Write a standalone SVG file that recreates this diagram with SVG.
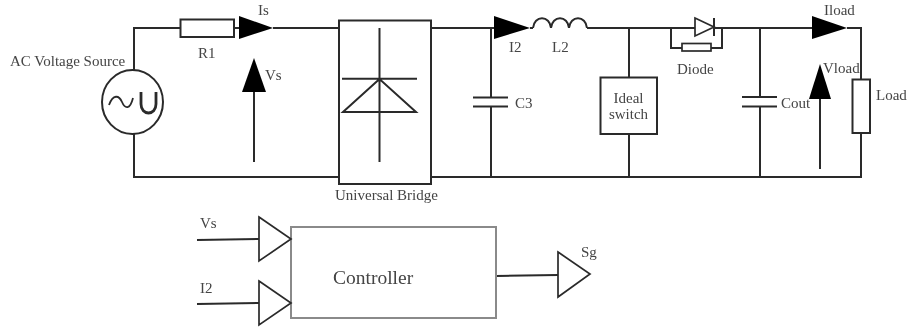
<svg xmlns="http://www.w3.org/2000/svg" width="909" height="328" viewBox="0 0 909 328">
<style>
.w{fill:none;stroke:#2a2a2a;stroke-width:2}
.b{fill:#fff;stroke:#2a2a2a;stroke-width:2}
.g{fill:#fff;stroke:#2a2a2a;stroke-width:1.700}
.k{fill:#000;stroke:none}
.c{fill:#fff;stroke:#8a8a8a;stroke-width:2}
text{font-family:"Liberation Serif","Times New Roman",serif;font-size:15px;fill:#444}
</style>
<defs><filter id="s" x="-2%" y="-2%" width="104%" height="104%"><feGaussianBlur stdDeviation="0.45"/></filter></defs>
<rect width="909" height="328" fill="#fff"/>
<g filter="url(#s)">
<g id="connectors">
<path class="w" d="M180 28H134V70M134 134V177H339M234 28H239M273 28H339M431 28H494M530 28H533M587 28H695M714 28H812M847 28H861V79M861 133V177M431 177H862"/>
<path class="w" d="M491 28V97.500M491 106.500V177M629 28V77M629 134V177M760 28V97M760 106.500V177"/>
<path class="w" d="M254 162V92M820 169V99M197 240L259 239M197 304L259 303M496 276L558 275"/>
</g>
<g id="source"><ellipse class="b" cx="132.500" cy="102" rx="30.500" ry="32"/><path class="w" d="M109 105C113 94 119 95 122 102C125 109 130 110 133 98" style="stroke-width:1.800"/><path class="w" style="stroke-width:2.800" d="M141 92V104C141 116 156 116 156 104V92"/><text x="10" y="66">AC Voltage Source</text></g>
<g id="r1"><rect class="b" x="180.500" y="19.500" width="53.500" height="17.500"/><text x="198" y="58">R1</text></g>
<g id="is"><polygon class="k" points="239,16 273,28 239,39"/><text x="258" y="15">Is</text></g>
<g id="vs"><polygon class="k" points="254,58 242,92 266,92"/><text x="265" y="80">Vs</text></g>
<g id="bridge"><rect class="b" x="339" y="20.500" width="92" height="163.500"/><path class="w" d="M379.500 28V162M342 78.700H417M379.500 79L343 112H416Z"/><text x="335" y="200">Universal Bridge</text></g>
<g id="c3"><path class="w" d="M473 97.500H508M473 106.500H508"/><text x="515" y="108">C3</text></g>
<g id="i2"><polygon class="k" points="494,16 530,28 494,39"/><text x="509" y="52">I2</text></g>
<g id="l2"><path class="w" d="M533 28C534 15 550 15 551 28C552 15 568 15 569 28C570 15 586 15 587 28"/><text x="552" y="52">L2</text></g>
<g id="switch"><rect class="b" x="600.500" y="77.500" width="56.500" height="56.500"/><text x="628.500" y="103" text-anchor="middle">Ideal</text><text x="628.500" y="119" text-anchor="middle">switch</text></g>
<g id="diode"><path class="w" d="M671 28V48H682M711 48H722V28"/><polygon class="g" points="695,18 714,27 695,36"/><path class="w" d="M714 18V36"/><rect class="g" x="682" y="43.500" width="29" height="7.500"/><text x="677" y="74">Diode</text></g>
<g id="cout"><path class="w" d="M742 97H777M742 106.500H777"/><text x="781" y="108">Cout</text></g>
<g id="iload"><polygon class="k" points="812,16 847,28 812,39"/><text x="824" y="15">Iload</text></g>
<g id="vload"><polygon class="k" points="820,64 809,99 831,99"/><text x="823" y="73">Vload</text></g>
<g id="load"><rect class="b" x="852.500" y="79.500" width="17.500" height="53.500"/><text x="876" y="100">Load</text></g>
<g id="controller"><rect class="c" x="291" y="227" width="205" height="91"/><text x="333" y="284" style="font-size:19.500px">Controller</text></g>
<g id="in-vs"><polygon class="g" points="259,217 291,239 259,261"/><text x="200" y="228">Vs</text></g>
<g id="in-i2"><polygon class="g" points="259,281 291,303 259,325"/><text x="200" y="293">I2</text></g>
<g id="out-sg"><polygon class="g" points="558,252 590,274 558,297"/><text x="581" y="257">Sg</text></g>
</g>
</svg>
